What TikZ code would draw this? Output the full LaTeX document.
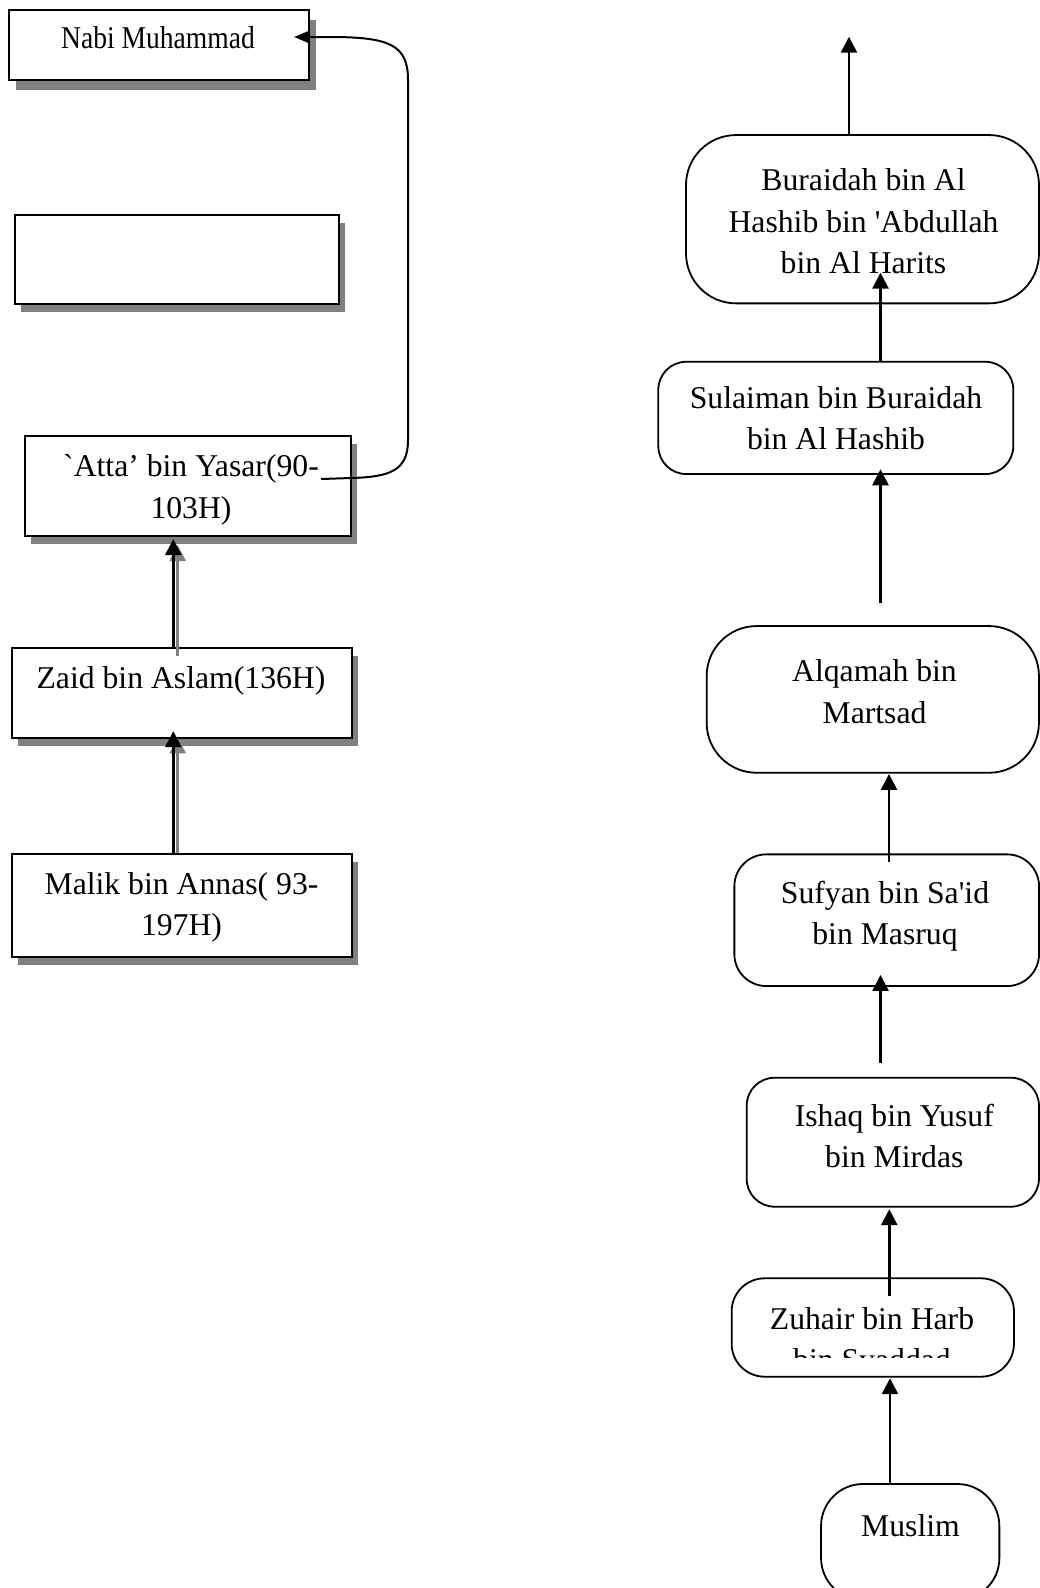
\documentclass[tikz,border=0pt]{standalone}
\usepackage{fontspec}
\usepackage{graphicx}
\setmainfont{Liberation Serif}
\usetikzlibrary{arrows.meta,shadows}

\definecolor{shadowgrey}{HTML}{808080}

% multi-line text whose baseline is the first line
\newcommand{\tlines}[1]{\begin{tabular}[t]{@{}c@{}}#1\end{tabular}}

\tikzset{
  sqbox/.style={rectangle, draw=black, line width=2.2pt, fill=white, inner sep=0pt},
  sqshadow/.style={drop shadow={shadow xshift=6pt, shadow yshift=-8pt, fill=shadowgrey, opacity=1}},
  rbox/.style={rectangle, draw=black, line width=1.8pt, fill=white, inner sep=0pt},
  txt/.style={anchor=base, inner sep=0pt, font=\fontsize{31.7}{41.5}\selectfont},
  rarrow/.style={line width=2.6pt, -{Triangle[width=16pt,length=16pt]}},
  larrow/.style={line width=2.6pt, -{Triangle[width=16pt,length=16pt]}},
  larrowshadow/.style={line width=2.6pt, draw=shadowgrey, -{Triangle[width=16pt,length=16pt,fill=shadowgrey]}},
  curvearrow/.style={line width=2pt, -{Triangle[width=12pt,length=15pt]}}
}

\begin{document}
\begin{tikzpicture}[x=1pt,y=-1pt]
\useasboundingbox (0,0) rectangle (1040,1588);
\clip (0,0) rectangle (1040,1588);
\fill[white] (0,0) rectangle (1040,1588);

% ---------- left chain: square boxes with drop shadows ----------
\node[sqbox, drop shadow={shadow xshift=7pt, shadow yshift=-10pt, fill=shadowgrey, opacity=1},
      minimum width=300pt, minimum height=70pt] (nabi) at (159,45) {};
\node[sqbox, sqshadow, minimum width=324.3pt, minimum height=89.3pt] (blank) at (177.2,259.4) {};
\node[sqbox, sqshadow, minimum width=326pt, minimum height=100pt] (atta) at (188,486) {};
\node[sqbox, sqshadow, minimum width=340pt, minimum height=90.6pt] (zaid) at (181.7,693) {};
\node[sqbox, sqshadow, minimum width=340pt, minimum height=103.3pt] (malik) at (181.7,905.7) {};

\node[txt] (nabitext) at (158,48.3) {\scalebox{0.87}[1]{Nabi Muhammad}};
\node[txt] (attatext) at (191,476.7) {\tlines{\textasciigrave Atta’ bin Yasar(90-\\103H)}};
\node[txt] (zaidtext) at (181,688.3) {Zaid bin Aslam(136H)};
\node[txt] (maliktext) at (181.5,894) {\tlines{Malik bin Annas( 93-\\197H)}};

% grey shadows of the connectors
\draw[larrowshadow] ([shift={(-4,0)}]malik.north) -- ([shift={(-4,-2)}]zaid.south);
\draw[larrowshadow] ([shift={(-4,9)}]zaid.north) -- ([shift={(-10.3,8)}]atta.south);
% connectors
\draw[larrow] ([shift={(-8.4,0)}]malik.north) -- ([shift={(-8.4,-8.3)}]zaid.south);
\draw[larrow] ([shift={(-8.4,0)}]zaid.north) -- ([shift={(-14.7,2)}]atta.south);
\draw[curvearrow] ([shift={(-31,-7)}]atta.east) -- ++(30,-1)
   .. controls +(40,-1) and +(0,30) .. (408,440) -- (408,80)
   .. controls (408,45) and (390,37) .. (330,37) -- ([shift={(-16,-8)}]nabi.east);

% ---------- right chain: rounded boxes ----------
\node[rbox, rounded corners=50pt, minimum width=353pt, minimum height=168.3pt] (buraidah) at (862.5,219.2) {};
\node[rbox, rounded corners=28pt, minimum width=355pt, minimum height=112.3pt] (sulaiman) at (835.8,417.9) {};
\node[rbox, rounded corners=50pt, minimum width=332.3pt, minimum height=146.7pt] (alqamah) at (872.8,699.4) {};
\node[rbox, rounded corners=32pt, minimum width=304.7pt, minimum height=131.7pt] (sufyan) at (886.7,920.2) {};
\node[rbox, rounded corners=28pt, minimum width=292.3pt, minimum height=129pt] (ishaq) at (892.8,1142.2) {};
\node[rbox, rounded corners=33pt, minimum width=282.3pt, minimum height=98.4pt] (zuhair) at (872.8,1327.5) {};
\node[rbox, rounded corners=42pt, minimum width=178.3pt, minimum height=116pt] (muslim) at (910.2,1542) {};

\node[txt] (buraidahtext) at (863.5,190.7) {\tlines{Buraidah bin Al\\Hashib bin \textquotesingle Abdullah\\bin Al Harits}};
\node[txt] (sulaimantext) at (836,408.3) {\tlines{Sulaiman bin Buraidah\\bin Al Hashib}};
\node[txt] (alqamahtext) at (874.5,681.7) {\tlines{Alqamah bin\\Martsad}};
\node[txt] (sufyantext) at (885,903.3) {\tlines{Sufyan bin Sa\textquotesingle id\\bin Masruq}};
\node[txt] (ishaqtext) at (894.3,1126) {\tlines{Ishaq bin Yusuf\\bin Mirdas}};
\begin{scope}
  \clip (735,1285) rectangle (1010,1357);
  \node[txt] (zuhairtext) at (872,1329.3) {\tlines{Zuhair bin Harb\\bin Syaddad}};
\end{scope}
\node[txt] (muslimtext) at (910.5,1536) {Muslim};

% free ends of the connectors
\coordinate (topend) at (849,36.7);
\coordinate (alqgap) at (880.5,603.3);
\coordinate (ishgap) at (880.5,1062.7);

\draw[rarrow] ([shift={(-13.5,0)}]buraidah.north) -- (topend);
\draw[rarrow] ([shift={(44.7,0)}]sulaiman.north) -- ([shift={(18,-31.6)}]buraidah.south);
\draw[rarrow] (alqgap) -- ([shift={(44.7,-5.7)}]sulaiman.south);
\draw[rarrow] ([shift={(2.3,9)}]sufyan.north) -- ([shift={(16.2,0.3)}]alqamah.south);
\draw[rarrow] (ishgap) -- ([shift={(-6.2,-12)}]sufyan.south);
\draw[rarrow] ([shift={(16.5,18.4)}]zuhair.north) -- ([shift={(-3.5,1.6)}]ishaq.south);
\draw[rarrow] ([shift={(-20.2,0)}]muslim.north) -- ([shift={(17.2,0.6)}]zuhair.south);
\end{tikzpicture}
\end{document}
